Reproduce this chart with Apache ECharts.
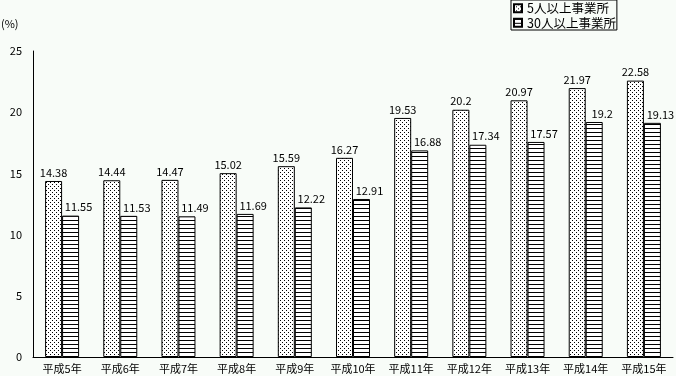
<!DOCTYPE html>
<html><head><meta charset="utf-8">
<script src="https://cdn.jsdelivr.net/npm/echarts@6/dist/echarts.min.js"></script>
<style>html,body{margin:0;padding:0;background:#f8fcf8;}#c{width:676px;height:376px;}</style>
</head><body><div id="c"></div>
<script>
var categories = ['平成5年','平成6年','平成7年','平成8年','平成9年','平成10年','平成11年','平成12年','平成13年','平成14年','平成15年'];
var seriesNames = ['5人以上事業所','30人以上事業所'];
var values5 = [14.38, 14.44, 14.47, 15.02, 15.59, 16.27, 19.53, 20.2, 20.97, 21.97, 22.58];
var values30 = [11.55, 11.53, 11.49, 11.69, 12.22, 12.91, 16.88, 17.34, 17.57, 19.2, 19.13];
var yTicks = [0, 5, 10, 15, 20, 25];

function dotPattern(){
  var c = document.createElement('canvas'); c.width = 4; c.height = 4;
  var g = c.getContext('2d');
  g.fillStyle = '#ffffff'; g.fillRect(0,0,4,4);
  g.fillStyle = '#000000'; g.fillRect(0,0,1,1); g.fillRect(2,2,1,1);
  return c;
}
function linePattern(){
  var c = document.createElement('canvas'); c.width = 4; c.height = 4;
  var g = c.getContext('2d');
  g.fillStyle = '#ffffff'; g.fillRect(0,0,4,4);
  g.fillStyle = '#000000'; g.fillRect(0,0,4,1);
  return c;
}
var font = '"Noto Sans CJK JP", sans-serif';
var chart = echarts.init(document.getElementById('c'));
chart.setOption({
  backgroundColor: '#f8fcf8',
  animation: false,
  textStyle: {fontFamily: font, color: '#000'},
  grid: {left: 33, right: 3, top: 51, bottom: 19, containLabel: false},
  legend: {
    orient: 'vertical', left: 511, top: 0,
    data: seriesNames,
    backgroundColor: '#f8fcf8',
    borderColor: '#000', borderWidth: 1,
    padding: [2, 1, 1, 2],
    itemWidth: 8, itemHeight: 8, itemGap: 2, itemTextGap: 3,
    icon: 'rect',
    textStyle: {fontSize: 12.5, color: '#000', fontFamily: font}
  },
  graphic: [{type: 'text', left: 1, top: 18, style: {text: '(%)', font: '11px ' + font, fill: '#000'}}],
  xAxis: {
    type: 'category', data: categories,
    axisLine: {lineStyle: {color: '#000', width: 1}},
    axisTick: {show: false},
    axisLabel: {color: '#000', fontSize: 11, margin: 6, interval: 0}
  },
  yAxis: {
    type: 'value', min: yTicks[0], max: yTicks[yTicks.length-1], interval: 5,
    axisLine: {show: true, lineStyle: {color: '#000', width: 1}},
    axisTick: {show: false},
    splitLine: {show: false},
    axisLabel: {color: '#000', fontSize: 11, margin: 11}
  },
  series: [
    {name: seriesNames[0], type: 'bar', data: values5, barWidth: 17, barGap: '0%',
     itemStyle: {color: {image: dotPattern(), repeat: 'repeat'}, borderColor: '#000', borderWidth: 1},
     label: {show: true, position: 'top', distance: 3, fontSize: 11, color: '#000', formatter: function(p){return String(p.value);}}},
    {name: seriesNames[1], type: 'bar', data: values30, barWidth: 17, barGap: '0%',
     itemStyle: {color: {image: linePattern(), repeat: 'repeat'}, borderColor: '#000', borderWidth: 1},
     label: {show: true, position: 'top', distance: 3, offset: [8, 0], fontSize: 11, color: '#000', formatter: function(p){return String(p.value);}}}
  ]
});
</script></body></html>
